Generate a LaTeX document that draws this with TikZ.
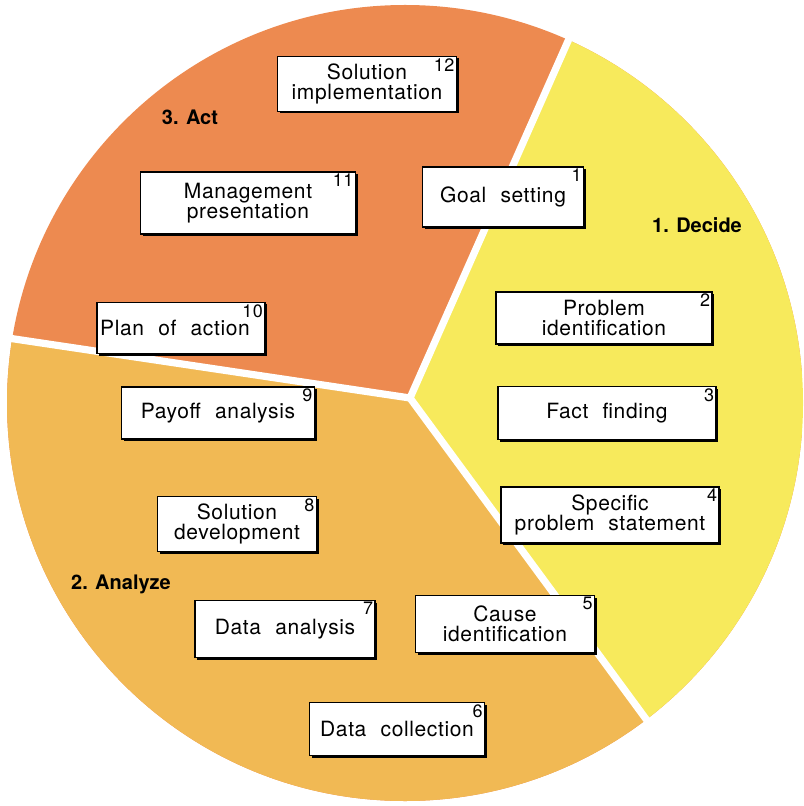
\documentclass[tikz,border=0pt]{standalone}
\usepackage{fontspec}
\setmainfont{TeX Gyre Heros}[LetterSpace=3, WordSpace=2.2]
\newfontfamily\phasefont{TeX Gyre Heros}
\usetikzlibrary{positioning}
\definecolor{decidefill}{RGB}{247,234,92}
\definecolor{analyzefill}{RGB}{241,185,84}
\definecolor{actfill}{RGB}{237,138,80}

\begin{document}
\begin{tikzpicture}[x=0.5pt, y=-0.5pt,
  stage/.style 2 args={draw, fill=white, line width=0.8pt, inner sep=0pt,
              minimum width=#1*0.5pt, minimum height=#2*0.5pt, align=center,
              font=\fontsize{10.5}{10.2}\selectfont,
              preaction={fill=black, transform canvas={xshift=1pt, yshift=-1pt}}},
  num/.style={font=\fontsize{9}{9}\selectfont, anchor=north east, inner sep=1.2pt},
  phase/.style={font=\phasefont\fontsize{10}{10}\selectfont\bfseries, anchor=base},
  gap/.style={white, line width=3.6pt}
]
  \useasboundingbox (0,0) rectangle (803,806);
  \coordinate (J) at (410,398);
  \coordinate (O) at (405,403);
  % Sectors
  \begin{scope}
    \clip (O) circle[radius=398];
    \fill[actfill] (0,0) rectangle (803,806);
    \fill[analyzefill] (J) -- (-19,334) -- (-19,900) -- (779,900) -- cycle;
    \fill[decidefill] (J) -- (595,-20) -- (850,-20) -- (850,900) -- (779,900) -- cycle;
  \end{scope}
  \draw[gap] (J) -- (595,-20);
  \draw[gap] (J) -- (-19,334);
  \draw[gap] (J) -- (779,900);
  % Phase labels
  \node[phase] (decide)  at (697,233) {1. Decide};
  \node[phase] (analyze) at (121,589) {2. Analyze};
  \node[phase] (act)     at (190,125) {3. Act};
  % Steps
  \node[stage={161}{60}] (goal)      at (503,197) {Goal setting};
  \node[stage={216}{52}] (probid)    at (604,318) {Problem\\identification};
  \node[stage={218}{53}] (fact)      at (607,413) {Fact finding};
  \node[stage={218}{56}] (specific)  at (610,515) {Specific\\problem statement};
  \node[stage={179}{57}] (cause)     at (505,624) {Cause\\identification};
  \node[stage={175}{53}] (collect)   at (397,729) {Data collection};
  \node[stage={180}{57}] (danalysis) at (285,629) {Data analysis};
  \node[stage={159}{55}] (soldev)    at (237,524) {Solution\\development};
  \node[stage={193}{52}] (payoff)    at (218,413) {Payoff analysis};
  \node[stage={168}{51}] (plan)      at (181,328) {Plan of action\hspace{6pt}};
  \node[stage={215}{62}] (mgmt)      at (248,203) {Management\\presentation};
  \node[stage={179}{55}] (implement) at (367,84)  {Solution\\implementation};
  % Step numbers
  \node[num] at (goal.north east)      {1};
  \node[num] at (probid.north east)    {2};
  \node[num] at (fact.north east)      {3};
  \node[num] at (specific.north east)  {4};
  \node[num] at (cause.north east)     {5};
  \node[num] at (collect.north east)   {6};
  \node[num] at (danalysis.north east) {7};
  \node[num] at (soldev.north east)    {8};
  \node[num] at (payoff.north east)    {9};
  \node[num] at (plan.north east)      {10};
  \node[num] at (mgmt.north east)      {11};
  \node[num] at (implement.north east) {12};
\end{tikzpicture}
\end{document}
